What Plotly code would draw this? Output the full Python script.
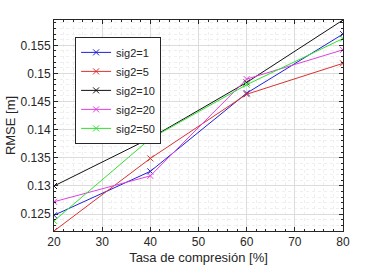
import plotly.graph_objects as go

x_vals = [20, 40, 60, 80]
names = ["sig2=1", "sig2=5", "sig2=10", "sig2=20", "sig2=50"]
sig1 = [0.1248, 0.1326, 0.1465, 0.1570]
sig5 = [0.1220, 0.1349, 0.1463, 0.1518]
sig10 = [0.1300, 0.1385, 0.1484, 0.1595]
sig20 = [0.1272, 0.1318, 0.1490, 0.1542]
sig50 = [0.1238, 0.1384, 0.1480, 0.1562]
series = [sig1, sig5, sig10, sig20, sig50]
colors = ["#2020d8", "#d83030", "#111111", "#e040e0", "#30e030"]

fig = go.Figure()
for n, s, c in zip(names, series, colors):
    fig.add_trace(go.Scatter(
        x=x_vals, y=s, name=n, mode="lines+markers",
        line=dict(color=c, width=1),
        marker=dict(symbol="x-thin-open", size=6, line=dict(color=c, width=1), color=c),
    ))

axis_common = dict(
    showline=True, linecolor="#262626", linewidth=1, mirror="ticks",
    ticks="inside", ticklen=4, tickcolor="#262626",
    showgrid=True, gridcolor="#dcdcdc", gridwidth=1,
    zeroline=False, automargin=False,
    tickfont=dict(family="Liberation Sans, Arial", size=12, color="#262626"),
)

fig.update_xaxes(
    range=[20, 80], tickvals=[20, 30, 40, 50, 60, 70, 80],
    title=dict(text="Tasa de compresión [%]", font=dict(family="Liberation Sans, Arial", size=13, color="#262626"), standoff=4),
    minor=dict(dtick=2, showgrid=True, gridcolor="#efefef", griddash="dot", ticks="inside", ticklen=2, tickcolor="#262626"),
    **axis_common,
)
fig.update_yaxes(
    range=[0.122, 0.1595], tickvals=[0.125, 0.13, 0.135, 0.14, 0.145, 0.15, 0.155],
    ticktext=["0.125", "0.13", "0.135", "0.14", "0.145", "0.15", "0.155"],
    title=dict(text="RMSE [m]", font=dict(family="Liberation Sans, Arial", size=13, color="#262626"), standoff=2),
    minor=dict(dtick=0.001, tick0=0.12, showgrid=True, gridcolor="#efefef", griddash="dot", ticks="inside", ticklen=2, tickcolor="#262626"),
    **axis_common,
)

fig.update_layout(
    width=380, height=269,
    margin=dict(l=54, r=37, t=20, b=38),
    paper_bgcolor="white", plot_bgcolor="white",
    showlegend=True,
    legend=dict(
        x=0.073, y=0.92, xanchor="left", yanchor="top",
        bgcolor="white", bordercolor="#262626", borderwidth=1,
        font=dict(family="Liberation Sans, Arial", size=11, color="#262626"),
        tracegroupgap=0, itemwidth=30,
    ),
)

fig.write_html("out.html", config={"displayModeBar": False},
               post_script="document.body.style.margin='0';document.body.style.overflow='hidden';")
